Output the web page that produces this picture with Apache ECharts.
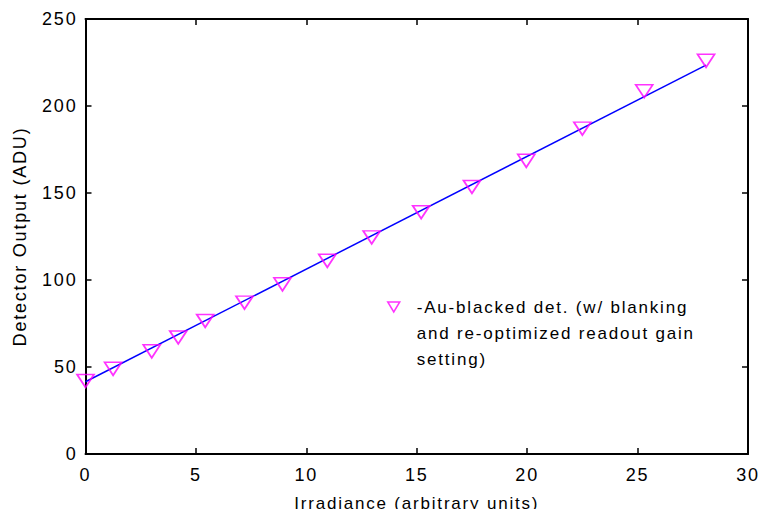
<!DOCTYPE html>
<html lang="en">
<head>
<meta charset="UTF-8">
<title>Detector Output</title>
<script src="https://cdn.jsdelivr.net/npm/echarts@6/dist/echarts.min.js"></script>
<style>
    html, body { margin: 0; padding: 0; background: #fff; }
    #main { width: 759px; height: 509px; letter-spacing: 1.8px; }
</style>
</head>
<body>
<div id="main"></div>
<script>
    // measured points
    let irradiance = [0, 1.25, 3.0, 4.2, 5.42, 7.2, 8.92, 10.95, 12.96, 15.2, 17.5, 19.96, 22.5, 25.3, 28.1];
    let output = [42, 49, 59, 67, 76.5, 87, 97.5, 111, 124.5, 139, 153.5, 168.5, 187, 208.5, 226];

    // linear fit end points
    let fitX = [0, 28.1];
    let fitY = [41.5, 223.5];

    let seriesName = '-Au-blacked det. (w/ blanking\nand re-optimized readout gain\nsetting)';
    let xTitle = 'Irradiance (arbitrary units)';
    let yTitle = 'Detector Output (ADU)';

    let font = '"Liberation Sans", Arial, sans-serif';
    let tri = 'path://M0,0L12,0L6,10Z';
    // same triangle, with an empty point below so the icon lines up with the first text line
    let legendTri = 'path://M0,0L12,0L6,10ZM0,62L0,62';

    let pts = irradiance.map(function (x, i) { return [x, output[i]]; });
    let fit = fitX.map(function (x, i) { return [x, fitY[i]]; });

    let tick = { show: true, inside: true, length: 6, lineStyle: { color: '#000', width: 1.5 } };
    let line = { show: true, onZero: false, lineStyle: { color: '#000', width: 2 } };

    let myChart = echarts.init(document.getElementById('main'), null, { renderer: 'svg' });
    let option = {
        animation: false,
        textStyle: { fontFamily: font },
        grid: { left: 85.5, right: 11, top: 19, bottom: 55, outerBoundsMode: 'none' },
        legend: {
            data: [seriesName],
            left: 387,
            top: 294,
            padding: 0,
            selectedMode: false,
            icon: legendTri,
            itemWidth: 12,
            itemHeight: 62,
            itemStyle: { color: 'transparent', borderColor: '#ff00ff', borderWidth: 1.5 },
            textStyle: {
                fontFamily: font,
                fontSize: 17,
                color: '#000',
                lineHeight: 26,
                padding: [0, 0, 0, 12]
            }
        },
        xAxis: [
            {
                type: 'value', min: 0, max: 30, interval: 5,
                name: xTitle, nameLocation: 'middle', nameGap: 41,
                nameTextStyle: { fontFamily: font, fontSize: 17, color: '#000', verticalAlign: 'top' },
                axisLine: line, axisTick: tick,
                axisLabel: { fontFamily: font, fontSize: 18, color: '#000', margin: 12 },
                splitLine: { show: false }
            },
            {
                type: 'value', min: 0, max: 30, interval: 5, position: 'top',
                axisLine: line, axisTick: tick,
                axisLabel: { show: false }, splitLine: { show: false }
            }
        ],
        yAxis: [
            {
                type: 'value', min: 0, max: 250, interval: 50,
                name: yTitle, nameLocation: 'middle', nameGap: 57, nameRotate: 90,
                nameTextStyle: { fontFamily: font, fontSize: 18, color: '#000' },
                axisLine: line, axisTick: tick,
                axisLabel: { fontFamily: font, fontSize: 18, color: '#000', margin: 8 },
                splitLine: { show: false }
            },
            {
                type: 'value', min: 0, max: 250, interval: 50, position: 'right',
                axisLine: line, axisTick: tick,
                axisLabel: { show: false }, splitLine: { show: false }
            }
        ],
        series: [
            {
                name: 'fit',
                type: 'line',
                data: fit,
                symbol: 'none',
                lineStyle: { color: '#0000ff', width: 1.5 },
                z: 2
            },
            {
                name: seriesName,
                type: 'scatter',
                data: pts,
                symbol: tri,
                symbolSize: [17, 13],
                itemStyle: { color: 'transparent', borderColor: '#ff00ff', borderWidth: 1.7 },
                z: 3
            }
        ]
    };
    myChart.setOption(option);
</script>
</body>
</html>
